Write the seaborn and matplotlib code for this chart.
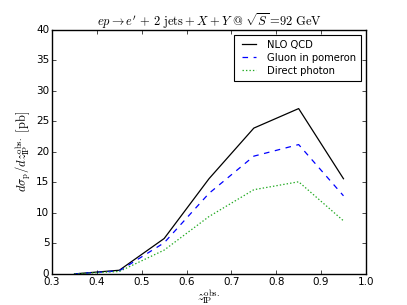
import matplotlib
matplotlib.use("Agg")
import matplotlib.pyplot as plt
import seaborn as sns
import pandas as pd

z_obs = [0.35, 0.45, 0.55, 0.65, 0.75, 0.85, 0.95]
nlo_qcd = [0.0, 0.6, 5.8, 15.6, 23.9, 27.1, 15.6]
gluon_pomeron = [0.0, 0.5, 5.1, 13.2, 19.3, 21.2, 12.8]
direct_photon = [0.0, 0.4, 3.9, 9.4, 13.8, 15.1, 8.7]
series_names = ["NLO QCD", "Gluon in pomeron", "Direct photon"]

plt.style.use("classic")
plt.rcParams["mathtext.fontset"] = "cm"
plt.rcParams["font.family"] = ["DejaVu Sans"]

df = pd.concat([
    pd.DataFrame({"z": z_obs, "sigma": vals, "series": name})
    for name, vals in zip(series_names, [nlo_qcd, gluon_pomeron, direct_photon])
])

fig = plt.figure(figsize=(4.07, 3.05), dpi=100)
ax = fig.add_axes([0.128, 0.102, 0.771, 0.8])

styles = {"NLO QCD": ("black", "-"), "Gluon in pomeron": ("blue", (0, (4, 4))), "Direct photon": ("#22aa22", (0, (1, 1.5)))}
for name in series_names:
    c, ls = styles[name]
    sub = df[df["series"] == name]
    sns.lineplot(data=sub, x="z", y="sigma", ax=ax, color=c, linestyle=ls, linewidth=0.9, label=name)

ax.set_xlim(0.3, 1.0)
ax.set_ylim(0, 40)
ax.set_xticks([0.3, 0.4, 0.5, 0.6, 0.7, 0.8, 0.9, 1.0])
ax.set_yticks([0, 5, 10, 15, 20, 25, 30, 35, 40])
ax.tick_params(labelsize=7.5, length=3, pad=2)
ax.set_xlabel(r"$z_{\rm I\!P}^{\rm obs.}$", fontsize=9, labelpad=0)
ax.set_ylabel(r"$d\sigma_{\rm p}/dz_{\rm I\!P}^{\rm obs.}\ \mathrm{[pb]}$", fontsize=9, labelpad=2)
ax.set_title(r"$ep\rightarrow e^{\prime}\,+\,2\ \mathrm{jets}+X+Y\ @\ \sqrt{S}=\!92\ \mathrm{GeV}$", fontsize=9, pad=3)
leg = ax.legend(loc="upper right", fontsize=7.2, frameon=True, fancybox=False, handlelength=2.0, borderpad=0.5, labelspacing=0.3)
leg.get_frame().set_linewidth(0.8)

fig.savefig("out.png", dpi=100)
